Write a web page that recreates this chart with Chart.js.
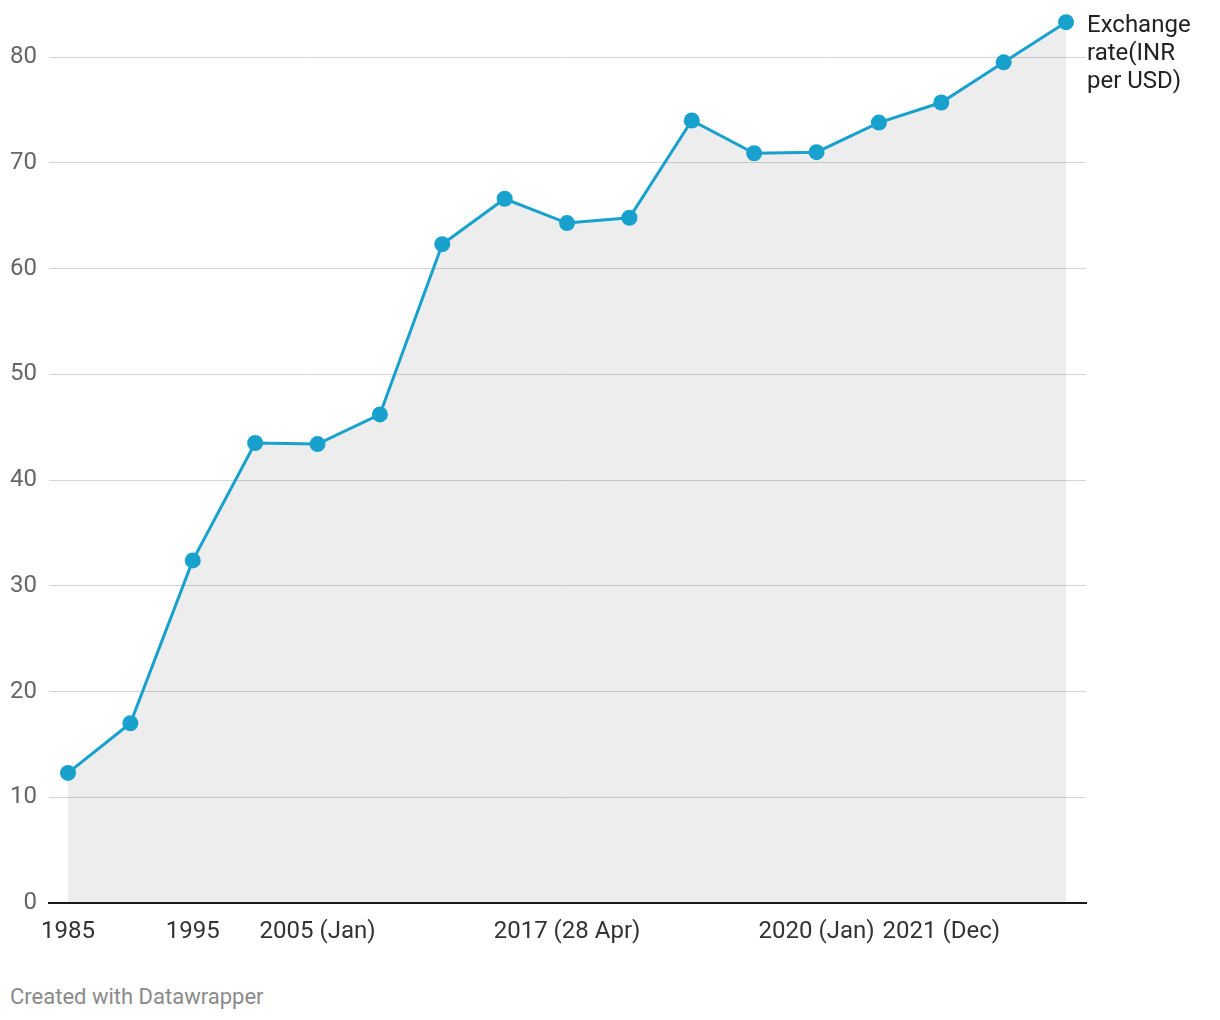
<!DOCTYPE html>
<html>
<head>
<meta charset="utf-8">
<script src="https://cdn.jsdelivr.net/npm/chart.js@4/dist/chart.umd.min.js"></script>
<style>
  html, body { margin:0; padding:0; background:#fff; font-family: Roboto, sans-serif; }
  #wrap { position:absolute; left:0; top:0; width:1220px; height:960px; }
  #footer { position:absolute; left:10px; top:984px; font: 22px Roboto, sans-serif; color:#8a8a8a; }
</style>
</head>
<body>
<div id="wrap"><canvas id="c"></canvas></div>
<div id="footer">Created with Datawrapper</div>
<script>
// Category tick labels (only some are shown in the chart; blanks are unlabelled points)
const categories = ["1985", "", "1995", "", "2005 (Jan)", "", "", "", "2017 (28 Apr)", "", "", "", "2020 (Jan)", "", "2021 (Dec)", "", ""];
// Exchange rate (INR per USD)
const rateValues = [12.3, 17.0, 32.4, 43.5, 43.4, 46.2, 62.3, 66.6, 64.3, 64.8, 74.0, 70.9, 71.0, 73.8, 75.7, 79.5, 83.3];
const yTicks = [0, 10, 20, 30, 40, 50, 60, 70, 80];
const seriesLabel = ["Exchange", "rate(INR", "per USD)"];

const lineColor = '#18a1cd';

const endLabel = {
  id: 'endLabel',
  afterDraw(chart) {
    const ctx = chart.ctx;
    ctx.save();
    ctx.font = '24px Roboto, sans-serif';
    ctx.fillStyle = '#222';
    ctx.textAlign = 'left';
    ctx.textBaseline = 'middle';
    const x = chart.chartArea.right + 1;
    seriesLabel.forEach((t, i) => ctx.fillText(t, x, 26 + i * 28));
    ctx.restore();
  }
};

new Chart(document.getElementById('c'), {
  type: 'line',
  data: {
    datasets: [{
      label: seriesLabel.join(' '),
      data: rateValues.map((v, i) => ({ x: i, y: v })),
      borderColor: lineColor,
      borderWidth: 3,
      backgroundColor: 'rgba(0,0,0,0.072)',
      fill: 'origin',
      pointRadius: 8,
      pointHoverRadius: 8,
      pointBackgroundColor: lineColor,
      pointBorderWidth: 0,
      tension: 0
    }]
  },
  options: {
    responsive: true,
    maintainAspectRatio: false,
    animation: false,
    layout: { padding: { top: 14, right: 134, left: 0, bottom: 0 } },
    plugins: { legend: { display: false }, tooltip: { enabled: false } },
    scales: {
      x: {
        type: 'linear',
        min: -0.305,
        max: 16.32,
        afterBuildTicks: s => { s.ticks = categories.map((_, i) => ({ value: i })); },
        afterFit: s => { s.height = 57; s.paddingLeft = 0; s.paddingRight = 0; },
        grid: { display: false, drawTicks: false },
        border: { display: true, color: '#1a1a1a', width: 2 },
        ticks: {
          autoSkip: false,
          maxRotation: 0,
          padding: 15,
          color: '#333',
          font: { family: 'Roboto', size: 24 },
          callback: v => categories[v] || ''
        }
      },
      y: {
        min: 0,
        max: 84.07,
        afterBuildTicks: s => { s.ticks = yTicks.map(v => ({ value: v })); },
        afterFit: s => { s.width = 49; s.paddingTop = 0; s.paddingBottom = 0; },
        grid: { color: '#d4d4d4', lineWidth: 1, drawTicks: false },
        border: { display: false },
        ticks: {
          padding: 12,
          color: '#666',
          font: { family: 'Roboto', size: 24 }
        }
      }
    }
  },
  plugins: [endLabel]
});
</script>
</body>
</html>
